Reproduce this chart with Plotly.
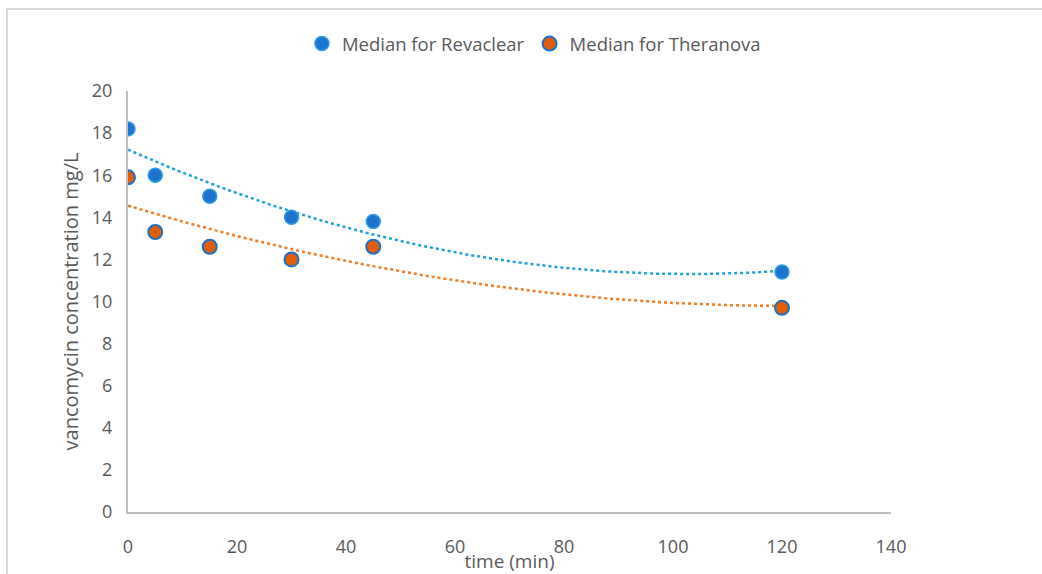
import numpy as np
import plotly.graph_objects as go

time_min = [0, 5, 15, 30, 45, 120]
revaclear = [18.2, 16.0, 15.0, 14.0, 13.8, 11.4]
theranova = [15.9, 13.3, 12.6, 12.0, 12.6, 9.7]
x_ticks = [0, 20, 40, 60, 80, 100, 120, 140]
y_ticks = [0, 2, 4, 6, 8, 10, 12, 14, 16, 18, 20]

FONT = "Open Sans, Liberation Sans, Arial"
GRAY = "#595959"

xs = np.linspace(min(time_min), max(time_min), 200)
fit_r = np.polyval(np.polyfit(time_min, revaclear, 2), xs)
fit_t = np.polyval(np.polyfit(time_min, theranova, 2), xs)

fig = go.Figure()
fig.add_trace(go.Scatter(x=xs, y=fit_r, mode="lines", showlegend=False,
                         line=dict(color="#1CA0E0", width=2.5, dash="dot"), hoverinfo="skip"))
fig.add_trace(go.Scatter(x=xs, y=fit_t, mode="lines", showlegend=False,
                         line=dict(color="#F47B20", width=2.5, dash="dot"), hoverinfo="skip"))
fig.add_trace(go.Scatter(x=time_min, y=revaclear, mode="markers", name="Median for Revaclear",
                         marker=dict(size=14, color="#1C74CC", line=dict(color="#2E9DE2", width=1.5))))
fig.add_trace(go.Scatter(x=time_min, y=theranova, mode="markers", name="Median for Theranova",
                         marker=dict(size=14, color="#E05E0A", line=dict(color="#1F6FC4", width=2))))

fig.update_layout(
    width=1042, height=574,
    margin=dict(l=128, r=151, t=91, b=62),
    paper_bgcolor="white", plot_bgcolor="white",
    font=dict(family=FONT, color=GRAY, size=18),
    legend=dict(orientation="h", x=0.532, xanchor="center", y=1.1116, yref="paper",
                yanchor="middle", font=dict(size=18.5, color=GRAY), itemwidth=30,
                bgcolor="rgba(0,0,0,0)", traceorder="normal", itemclick=False),
    xaxis=dict(range=[0, 140], tickvals=x_ticks, showgrid=False, zeroline=False,
               showline=True, linecolor="#BFBFBF", linewidth=2, ticks="", automargin=False,
               tickfont=dict(size=18, color=GRAY), ticklabelstandoff=17,
               title=dict(text="time (min)", font=dict(size=19, color=GRAY), standoff=0)),
    yaxis=dict(range=[0, 20], tickvals=y_ticks, showgrid=False, zeroline=False,
               showline=True, linecolor="#BFBFBF", linewidth=2, ticks="", automargin=False,
               tickfont=dict(size=18, color=GRAY), ticklabelstandoff=10,
               title=dict(text="vancomycin concentration mg/L", font=dict(size=20, color=GRAY), standoff=8)),
    shapes=[dict(type="rect", xref="paper", yref="paper", x0=-0.1586, x1=1.3, y0=-0.3, y1=1.1948,
                 line=dict(color="#D9D9D9", width=2), fillcolor="rgba(0,0,0,0)", layer="below")],
)
fig.write_html("out.html")
